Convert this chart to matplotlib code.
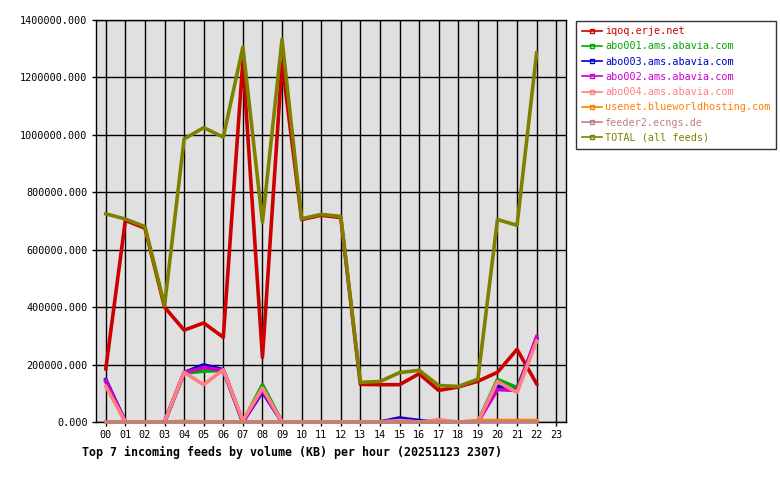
"""
Top 7 incoming feeds by volume (KB) per hour.
"""
import numpy as np
import matplotlib
matplotlib.use("Agg")
from matplotlib import pyplot as plt
from matplotlib.lines import Line2D
from matplotlib.ticker import FormatStrFormatter

hours = ['%02d' % h for h in range(24)]

# KB per hour, hours 00..22 (23 not yet reached)
iqoq = [185000, 702000, 675000, 400000, 320000, 345000, 295000, 1258000, 225000, 1252000,
        705000, 720000, 712000, 131000, 130000, 130000, 168000, 110000, 122000, 142000,
        173000, 253000, 133000]
abo001 = [140000, 0, 0, 0, 170000, 177000, 180000, 0, 130000, 0,
          0, 0, 0, 0, 0, 8000, 0, 3000, 0, 0,
          148000, 120000, 285000]
abo003 = [148000, 0, 0, 0, 172000, 199000, 182000, 0, 105000, 0,
          0, 0, 0, 0, 0, 14000, 5000, 0, 0, 0,
          125000, 110000, 290000]
abo002 = [145000, 0, 0, 0, 172000, 190000, 180000, 0, 110000, 0,
          0, 0, 0, 0, 0, 6000, 0, 0, 0, 0,
          113000, 110000, 297000]
abo004 = [124000, 0, 0, 0, 173000, 130000, 182000, 5000, 119000, 0,
          0, 0, 0, 0, 0, 5000, 0, 8000, 0, 0,
          141000, 103000, 282000]
usenet = [0, 0, 0, 0, 2000, 0, 0, 0, 0, 0,
          0, 0, 0, 0, 0, 0, 0, 0, 0, 5000,
          5000, 5000, 5000]
feeder2 = [0] * 23
total = [725000, 707000, 680000, 406000, 986000, 1025000, 992000, 1306000, 696000, 1333000,
         708000, 723000, 716000, 138000, 141000, 172000, 180000, 127000, 124000, 149000,
         705000, 685000, 1285000]

series = [
    ("iqoq.erje.net", iqoq, "#cc0000"),
    ("abo001.ams.abavia.com", abo001, "#00aa00"),
    ("abo003.ams.abavia.com", abo003, "#0000cc"),
    ("abo002.ams.abavia.com", abo002, "#cc00cc"),
    ("abo004.ams.abavia.com", abo004, "#ff8080"),
    ("usenet.blueworldhosting.com", usenet, "#ff8000"),
    ("feeder2.ecngs.de", feeder2, "#c08080"),
    ("TOTAL (all feeds)", total, "#808000"),
]
# feeder2 sits on top of usenet at the bottom, TOTAL on top of everything
zorders = [2.0, 2.1, 2.2, 2.3, 2.4, 3.0, 3.1, 4.0]

mono = "DejaVu Sans Mono"
fs = 7.3

fig = plt.figure(figsize=(7.8, 4.8), dpi=100)
ax = fig.add_axes([96 / 780, 58 / 480, 470 / 780, 402 / 480])
ax.set_facecolor("#e0e0e0")

x = np.arange(23)
for (name, vals, col), z in zip(series, zorders):
    ax.plot(x, vals, color=col, lw=2.6, zorder=z, clip_on=False)

ax.set_xlim(-0.5, 23.5)
ax.set_ylim(0, 1400000)
ax.set_xticks(range(24))
ax.set_xticklabels(hours)
ax.set_yticks(np.arange(0, 1400001, 200000))
ax.yaxis.set_major_formatter(FormatStrFormatter("%.3f"))
ax.grid(True, color="black", lw=1.0)
ax.set_axisbelow(True)
for sp in ax.spines.values():
    sp.set_linewidth(1.0)
    sp.set_zorder(1.5)
ax.tick_params(direction="out", length=3, width=1, pad=3, labelsize=fs)
for lab in ax.get_xticklabels() + ax.get_yticklabels():
    lab.set_family(mono)

fig.text(82 / 780, 1 - 452 / 480, "Top 7 incoming feeds by volume (KB) per hour (20251123 2307)",
         family=mono, weight="bold", fontsize=8.4, va="center", ha="left")

handles = [Line2D([0], [0], color=col, lw=1.2, marker="s", markersize=3,
                  markerfacecolor="none", markeredgewidth=1.0)
           for _, _, col in series]
leg = fig.legend(handles, [s[0] for s in series], loc="upper left",
                 bbox_to_anchor=(576 / 780, 1 - 20.5 / 480),
                 prop={"family": mono, "size": fs}, frameon=True, fancybox=False,
                 handlelength=2.0, handletextpad=0.3, labelspacing=0.52,
                 borderpad=0.55, borderaxespad=0)
leg.get_frame().set_edgecolor("black")
leg.get_frame().set_linewidth(1.0)
for t, (_, _, col) in zip(leg.get_texts(), series):
    t.set_color(col)

fig.savefig("out.png", dpi=100)
